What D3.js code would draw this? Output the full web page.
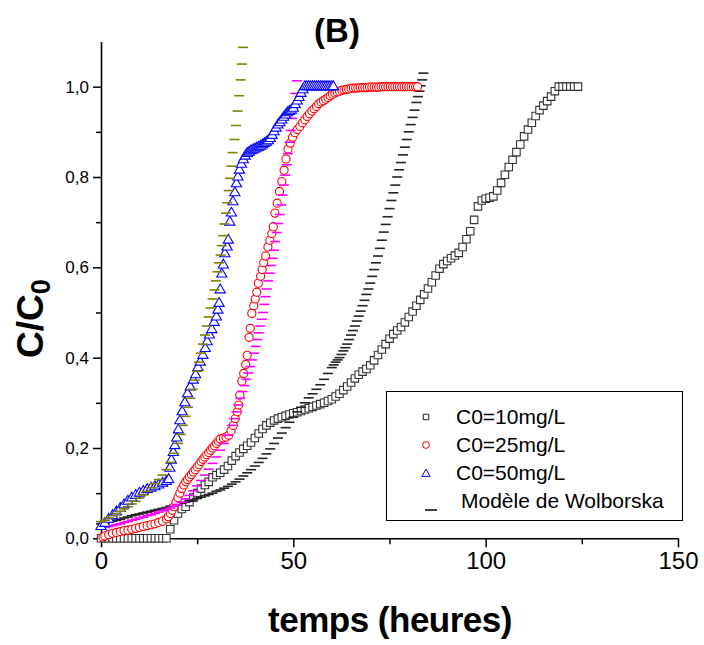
<!DOCTYPE html>
<html>
<head>
<meta charset="utf-8">
<script src="https://cdn.jsdelivr.net/npm/d3@7"></script>
<style>
  body { margin: 0; background: #fff; }
  svg { display: block; font-family: "Liberation Sans", Arial, sans-serif; }
</style>
</head>
<body>
<svg id="chart" width="704" height="645"></svg>
<script>
// C0 = 10 mg/L  (carrés)  [temps (h), C/C0]
var data10 = [
  [0,0],[1,0],[2,0],[3,0],[4,0],[5,0],[6,0],[7,0],[8,0],[9,0],[10,0],[11,0],[12,0],[13,0],[14,0],[15,0],[16,0],
  [17,0],[18,0.02],[19,0.04],[20,0.055],[21,0.065],[22,0.07],[23,0.08],[24,0.09],[25,0.1],[26,0.11],[27,0.118],
  [28,0.125],[29,0.135],[30,0.14],[31,0.145],[32,0.152],[33,0.16],[34,0.172],[35,0.182],[36,0.19],[37,0.198],
  [38,0.205],[39,0.212],[40,0.222],[41,0.232],[42,0.242],[43,0.25],[44,0.256],[45,0.261],[46,0.265],[47,0.268],
  [48,0.271],[49,0.274],[50,0.277],[51,0.279],[52,0.282],[53,0.285],[54,0.288],[55,0.291],[56,0.294],[57,0.297],
  [58,0.3],[59,0.304],[60,0.308],[61,0.314],[62,0.32],[63,0.328],[64,0.336],[65,0.345],[66,0.354],[67,0.362],
  [68,0.369],[69,0.375],[70,0.383],[71,0.394],[72,0.406],[73,0.418],[74,0.43],[75,0.442],[76,0.452],[77,0.46],
  [78,0.468],[79,0.478],[80,0.49],[81,0.502],[82,0.515],[83,0.528],[84,0.54],[85,0.553],[86,0.567],[87,0.582],
  [88,0.597],[89,0.607],[90,0.614],[91,0.62],[92,0.626],[93,0.632],[94,0.645],[95,0.662],[96,0.68],[97,0.705],
  [98,0.735],[99,0.748],[100,0.752],[101,0.754],[102,0.757],[103,0.77],[104,0.787],[105,0.805],[106,0.822],
  [107,0.838],[108,0.855],[109,0.872],[110,0.89],[111,0.905],[112,0.92],[113,0.935],[114,0.948],[115,0.958],
  [116,0.968],[117,0.978],[118,0.99],[119,1.0],[120,1.0],[121,1.0],[122,1.0],[123,1.0],[124,1.0]
]

// C0 = 25 mg/L  (cercles)
var data25 = [
  [0.5,0.003],[1,0.005],[2,0.008],[3,0.011],[4,0.013],[5,0.015],[6,0.017],[7,0.018],[8,0.02],[9,0.022],
  [10,0.024],[11,0.026],[12,0.028],[13,0.03],[14,0.032],[15,0.035],[16,0.038],[17,0.043],[17.5,0.048],
  [18,0.055],[18.5,0.062],[19,0.07],[19.5,0.08],[20,0.09],[20.5,0.1],[21,0.11],[21.5,0.118],[22,0.125],
  [22.5,0.13],[23,0.136],[23.5,0.141],[24,0.147],[24.5,0.152],[25,0.158],[25.5,0.163],[26,0.17],[26.5,0.175],
  [27,0.18],[27.5,0.185],[28,0.19],[28.5,0.195],[29,0.2],[29.5,0.205],[30,0.21],[30.5,0.215],[31,0.22],
  [31.8,0.222],[32.5,0.224],[33.2,0.228],[33.8,0.238],[34.4,0.25],[34.9,0.265],[35.4,0.28],[35.8,0.295],
  [36.1,0.317],[36.6,0.348],[37.1,0.365],[37.6,0.385],[38,0.405],[38.5,0.445],[38.8,0.465],[39.2,0.498],
  [39.7,0.515],[40.1,0.53],[40.5,0.545],[40.9,0.565],[41.5,0.58],[41.9,0.595],[42.3,0.61],[42.8,0.625],
  [43.4,0.645],[43.9,0.66],[44.4,0.675],[44.8,0.69],[45.2,0.72],[45.8,0.742],[46.4,0.768],[47,0.79],
  [47.6,0.815],[48.1,0.84],[48.6,0.862],[49.2,0.875],[49.8,0.888],[50.4,0.898],[51,0.905],[51.7,0.912],
  [52.4,0.92],[53,0.927],[53.6,0.934],[54.2,0.94],[54.8,0.946],[55.4,0.951],[56,0.956],[56.6,0.962],
  [57.2,0.966],[57.8,0.969],[58.4,0.972],[59,0.976],[59.6,0.98],[60.2,0.983],[60.8,0.986],[61.4,0.988],
  [62,0.99],[62.6,0.992],[63.2,0.993],[63.8,0.994],[64.4,0.995],[65,0.996],[65.6,0.997],[66.2,0.997],
  [66.8,0.997],[67.4,0.998],[68,0.998],[68.6,0.998],[69.2,0.998],[69.8,0.999],[70.4,0.999],[71,0.999],
  [71.6,0.999],[72.2,0.999],[72.8,1.0],[73.4,1.0],[74,1.0],[74.6,1.0],[75.2,1.0],[75.8,1.0],[76.4,1.0],
  [77,1.0],[77.6,1.0],[78.2,1.0],[78.8,1.0],[79.4,1.0],[80,1.0],[80.6,1.0],[81.2,1.0],[81.8,1.0],[82.3,1.0]
]

// C0 = 50 mg/L  (triangles)
var data50 = [
  [0,0.026],[1,0.033],[2,0.042],[3,0.05],[4,0.058],[5,0.066],[6,0.074],[7,0.082],[8,0.089],[9,0.095],
  [10,0.1],[11,0.104],[12,0.108],[13,0.111],[14,0.114],[15,0.118],[16,0.122],[17,0.126],[17.6,0.13],
  [17.9,0.155],[18.3,0.173],[18.8,0.19],[19.2,0.205],[19.7,0.222],[20.1,0.24],[20.5,0.26],[21.1,0.28],
  [21.8,0.3],[22.5,0.32],[23.2,0.335],[24,0.35],[24.6,0.362],[25.2,0.378],[25.8,0.39],[26.5,0.405],
  [27.1,0.42],[27.6,0.435],[28.2,0.45],[28.8,0.462],[29.4,0.478],[30,0.49],[30.4,0.505],[30.7,0.52],
  [31,0.55],[31.4,0.585],[31.8,0.605],[32.2,0.63],[32.8,0.645],[33.1,0.66],[33.5,0.7],[33.9,0.72],
  [34.3,0.745],[34.8,0.765],[35.2,0.785],[35.6,0.8],[36,0.815],[36.5,0.828],[37,0.838],[37.5,0.846],
  [38,0.852],[38.5,0.855],[39,0.858],[39.5,0.86],[40,0.862],[40.5,0.864],[41,0.866],[41.5,0.868],
  [42,0.871],[42.5,0.874],[43,0.877],[43.5,0.88],[44,0.885],[44.5,0.892],[45,0.9],[45.5,0.908],
  [46,0.915],[46.5,0.92],[47,0.926],[47.5,0.932],[48,0.937],[48.5,0.942],[49,0.945],[49.5,0.948],
  [50,0.952],[50.5,0.96],[51,0.968],[51.5,0.976],[52,0.985],[52.5,0.993],[53,1.0],[53.5,1.0],[54,1.0],
  [54.5,1.0],[55,1.0],[55.5,1.0],[56,1.0],[56.5,1.0],[57,1.0],[57.5,1.0],[58,1.0],[58.5,1.0],[59,1.0],
  [59.5,1.0],[60,1.0],[60.4,1.0]
]

// Modèle de Wolborska pour chaque C0
var model10 = [
  [0,0.032],[1,0.034],[2,0.036],[3,0.038],[4,0.04],[5,0.042],[6,0.045],[7,0.047],[8,0.05],[9,0.052],
  [10,0.054],[11,0.056],[12,0.058],[13,0.06],[14,0.062],[15,0.064],[16,0.066],[17,0.068],[18,0.071],
  [19,0.073],[20,0.076],[21,0.078],[22,0.08],[23,0.083],[24,0.085],[25,0.088],[26,0.091],[27,0.094],
  [28,0.097],[29,0.1],[30,0.104],[31,0.107],[32,0.111],[33,0.115],[34,0.12],[35,0.125],[36,0.131],
  [37,0.138],[38,0.145],[39,0.152],[40,0.16],[41,0.168],[42,0.177],[43,0.187],[44,0.198],[45,0.21],
  [46,0.222],[47,0.233],[48,0.245],[49,0.257],[50,0.268],[51,0.28],[52,0.29],[53,0.3],[54,0.311],
  [55,0.32],[56,0.33],[57,0.34],[58,0.352],[59,0.365],[60,0.378],[60.5,0.384],[61,0.39],[61.5,0.395],
  [62,0.4],[62.5,0.407],[63,0.415],[63.5,0.422],[64,0.43],[64.5,0.44],[65,0.45],[65.5,0.46],[66,0.47],
  [66.5,0.481],[67,0.492],[67.5,0.503],[68,0.515],[68.5,0.527],[69,0.54],[69.5,0.552],[70,0.565],
  [70.5,0.58],[71,0.595],[71.5,0.61],[72,0.625],[72.5,0.642],[73,0.66],[73.5,0.678],[74,0.695],
  [74.5,0.712],[75,0.73],[75.5,0.748],[76,0.765],[76.5,0.782],[77,0.8],[77.5,0.816],[78,0.832],
  [78.5,0.849],[79,0.866],[79.5,0.883],[80,0.9],[80.5,0.916],[81,0.932],[81.5,0.948],[82,0.965],
  [82.4,0.978],[82.8,0.99],[83.1,1.002],[83.5,1.015],[83.8,1.03]
]

var model25 = [
  [0,0.022],[1,0.024],[2,0.026],[3,0.028],[4,0.03],[5,0.032],[6,0.035],[7,0.037],[8,0.04],[9,0.042],
  [10,0.045],[11,0.047],[12,0.05],[13,0.052],[14,0.055],[15,0.058],[16,0.061],[17,0.064],[18,0.067],
  [19,0.071],[20,0.075],[21,0.08],[22,0.087],[23,0.095],[24,0.105],[25,0.116],[26,0.128],[27,0.14],
  [28,0.153],[29,0.166],[30,0.18],[31,0.195],[32,0.21],[33,0.228],[34,0.25],[34.6,0.265],[35.2,0.28],
  [35.7,0.295],[36.2,0.31],[36.8,0.325],[37.3,0.338],[37.8,0.352],[38.3,0.366],[38.8,0.38],[39.3,0.395],
  [39.8,0.41],[40.2,0.425],[40.6,0.44],[41,0.455],[41.4,0.47],[41.8,0.485],[42.1,0.5],[42.5,0.518],
  [42.8,0.535],[43.1,0.552],[43.5,0.57],[43.9,0.587],[44.2,0.604],[44.6,0.62],[45,0.638],[45.3,0.657],
  [45.7,0.677],[46.1,0.697],[46.5,0.717],[46.9,0.738],[47.2,0.76],[47.6,0.782],[47.9,0.804],[48.3,0.827],
  [48.6,0.852],[49,0.877],[49.3,0.903],[49.7,0.93],[50.1,0.957],[50.5,0.985],[50.9,1.013]
]

var model50 = [
  [0,0.037],[1,0.04],[2,0.045],[3,0.05],[4,0.055],[5,0.06],[6,0.065],[7,0.07],[8,0.076],[9,0.082],
  [10,0.089],[11,0.096],[12,0.104],[13,0.112],[14,0.121],[15,0.13],[16,0.14],[17,0.152],[18,0.168],
  [19,0.188],[20,0.21],[20.7,0.23],[21.3,0.25],[22,0.27],[22.6,0.29],[23.2,0.31],[23.8,0.33],[24.4,0.35],
  [25,0.37],[25.5,0.39],[26,0.41],[26.5,0.43],[27,0.45],[27.5,0.47],[28,0.49],[28.5,0.51],[29,0.53],
  [29.5,0.55],[29.9,0.57],[30.3,0.59],[30.7,0.61],[31.1,0.627],[31.4,0.648],[31.8,0.67],[32.1,0.696],
  [32.5,0.72],[32.8,0.743],[33.2,0.77],[33.5,0.797],[33.9,0.824],[34.2,0.854],[34.7,0.883],[35.1,0.914],
  [35.5,0.946],[35.9,0.98],[36.3,1.015],[36.6,1.05],[36.9,1.087]
]

var xTicks = [0, 50, 100, 150]
var xMinor = [25, 75, 125]
var yTicks = [0, 0.2, 0.4, 0.6, 0.8, 1.0]
var yMinor = [0.1, 0.3, 0.5, 0.7, 0.9]
var legendLabels = ["C0=10mg/L", "C0=25mg/L", "C0=50mg/L", "Modèle de Wolborska"]

var svg = d3.select("#chart")

var x = d3.scaleLinear().domain([0, 150]).range([101, 678])
var y = d3.scaleLinear().domain([0, 1.1]).range([538.3, 41.5])

// axes
var fmt = function (d) { return d3.format(".1f")(d).replace(".", ",") }

var gx = svg.append("g").attr("transform", "translate(0," + y(0) + ")")
gx.call(d3.axisBottom(x).tickValues(xTicks).tickSize(9).tickPadding(5).tickSizeOuter(0))
gx.append("g").call(d3.axisBottom(x).tickValues(xMinor).tickSize(6).tickFormat("").tickSizeOuter(0))
  .select(".domain").remove()

var gy = svg.append("g").attr("transform", "translate(" + x(0) + ",0)")
gy.call(d3.axisLeft(y).tickValues(yTicks).tickFormat(fmt).tickSize(8).tickPadding(4).tickSizeOuter(0))
gy.append("g").call(d3.axisLeft(y).tickValues(yMinor).tickSize(5).tickFormat("").tickSizeOuter(0))
  .select(".domain").remove()

svg.selectAll(".domain").attr("stroke", "#000").attr("stroke-width", 1.6)
svg.selectAll(".tick line").attr("stroke", "#000").attr("stroke-width", 1.5)
gx.selectAll(".tick text").attr("font-size", 24).attr("fill", "#000")
  .attr("font-family", "Liberation Sans, Arial, sans-serif")
gy.selectAll(".tick text").attr("font-size", 17).attr("fill", "#000")
  .attr("font-family", "Liberation Sans, Arial, sans-serif")

// marqueurs
var plot = svg.append("g")

function dashes (data, color) {
  plot.append("g").selectAll("line").data(data).enter().append("line")
    .attr("x1", function (d) { return x(d[0]) - 5 })
    .attr("x2", function (d) { return x(d[0]) + 5 })
    .attr("y1", function (d) { return y(d[1]) })
    .attr("y2", function (d) { return y(d[1]) })
    .attr("stroke", color)
    .attr("stroke-width", 1.6)
}

function symbols (data, type, size, color) {
  plot.append("g").selectAll("path").data(data).enter().append("path")
    .attr("d", d3.symbol().type(type).size(size))
    .attr("transform", function (d) { return "translate(" + x(d[0]) + "," + y(d[1]) + ")" })
    .attr("fill", "#fff")
    .attr("stroke", color)
    .attr("stroke-width", 1.1)
}

symbols(data10, d3.symbolSquare, 56, "#333")
dashes(model10, "#222")
symbols(data25, d3.symbolCircle, 52, "#ff0000")
dashes(model25, "#ff00ff")
symbols(data50, d3.symbolTriangle, 45, "#0000ff")
dashes(model50, "#808000")

// légende
var lg = svg.append("g")
lg.append("rect").attr("x", 386.5).attr("y", 391.5).attr("width", 296).attr("height", 129)
  .attr("fill", "#fff").attr("stroke", "#000").attr("stroke-width", 1)
var rowY = [417, 445, 473, 501]
lg.append("path").attr("d", d3.symbol().type(d3.symbolSquare).size(30))
  .attr("transform", "translate(426," + rowY[0] + ")").attr("fill", "#fff").attr("stroke", "#222")
lg.append("path").attr("d", d3.symbol().type(d3.symbolCircle).size(36))
  .attr("transform", "translate(426," + rowY[1] + ")").attr("fill", "#fff").attr("stroke", "#ff0000")
lg.append("path").attr("d", d3.symbol().type(d3.symbolTriangle).size(30))
  .attr("transform", "translate(426," + (rowY[2] + 1) + ")").attr("fill", "#fff").attr("stroke", "#0000ff")
lg.append("line").attr("x1", 425).attr("x2", 437).attr("y1", rowY[3] + 9).attr("y2", rowY[3] + 9)
  .attr("stroke", "#000").attr("stroke-width", 1.5)
lg.selectAll("text").data(legendLabels).enter().append("text")
  .attr("x", function (d, i) { return i === 3 ? 461 : 456 })
  .attr("y", function (d, i) { return rowY[i] + 7 })
  .attr("font-size", 21)
  .text(function (d) { return d })

// titres
svg.append("text").attr("x", 337).attr("y", 42).attr("text-anchor", "middle")
  .attr("font-size", 33).attr("font-weight", "bold").text("(B)")

svg.append("text").attr("x", 390).attr("y", 632).attr("text-anchor", "middle")
  .attr("font-size", 35).attr("font-weight", "bold").attr("letter-spacing", -0.5)
  .text("temps (heures)")

var yl = svg.append("text").attr("transform", "translate(43,358) rotate(-90)")
  .attr("font-size", 37).attr("font-weight", "bold")
yl.append("tspan").text("C/C")
yl.append("tspan").attr("font-size", 27).attr("dy", 7).text("0")
</script>
</body>
</html>
